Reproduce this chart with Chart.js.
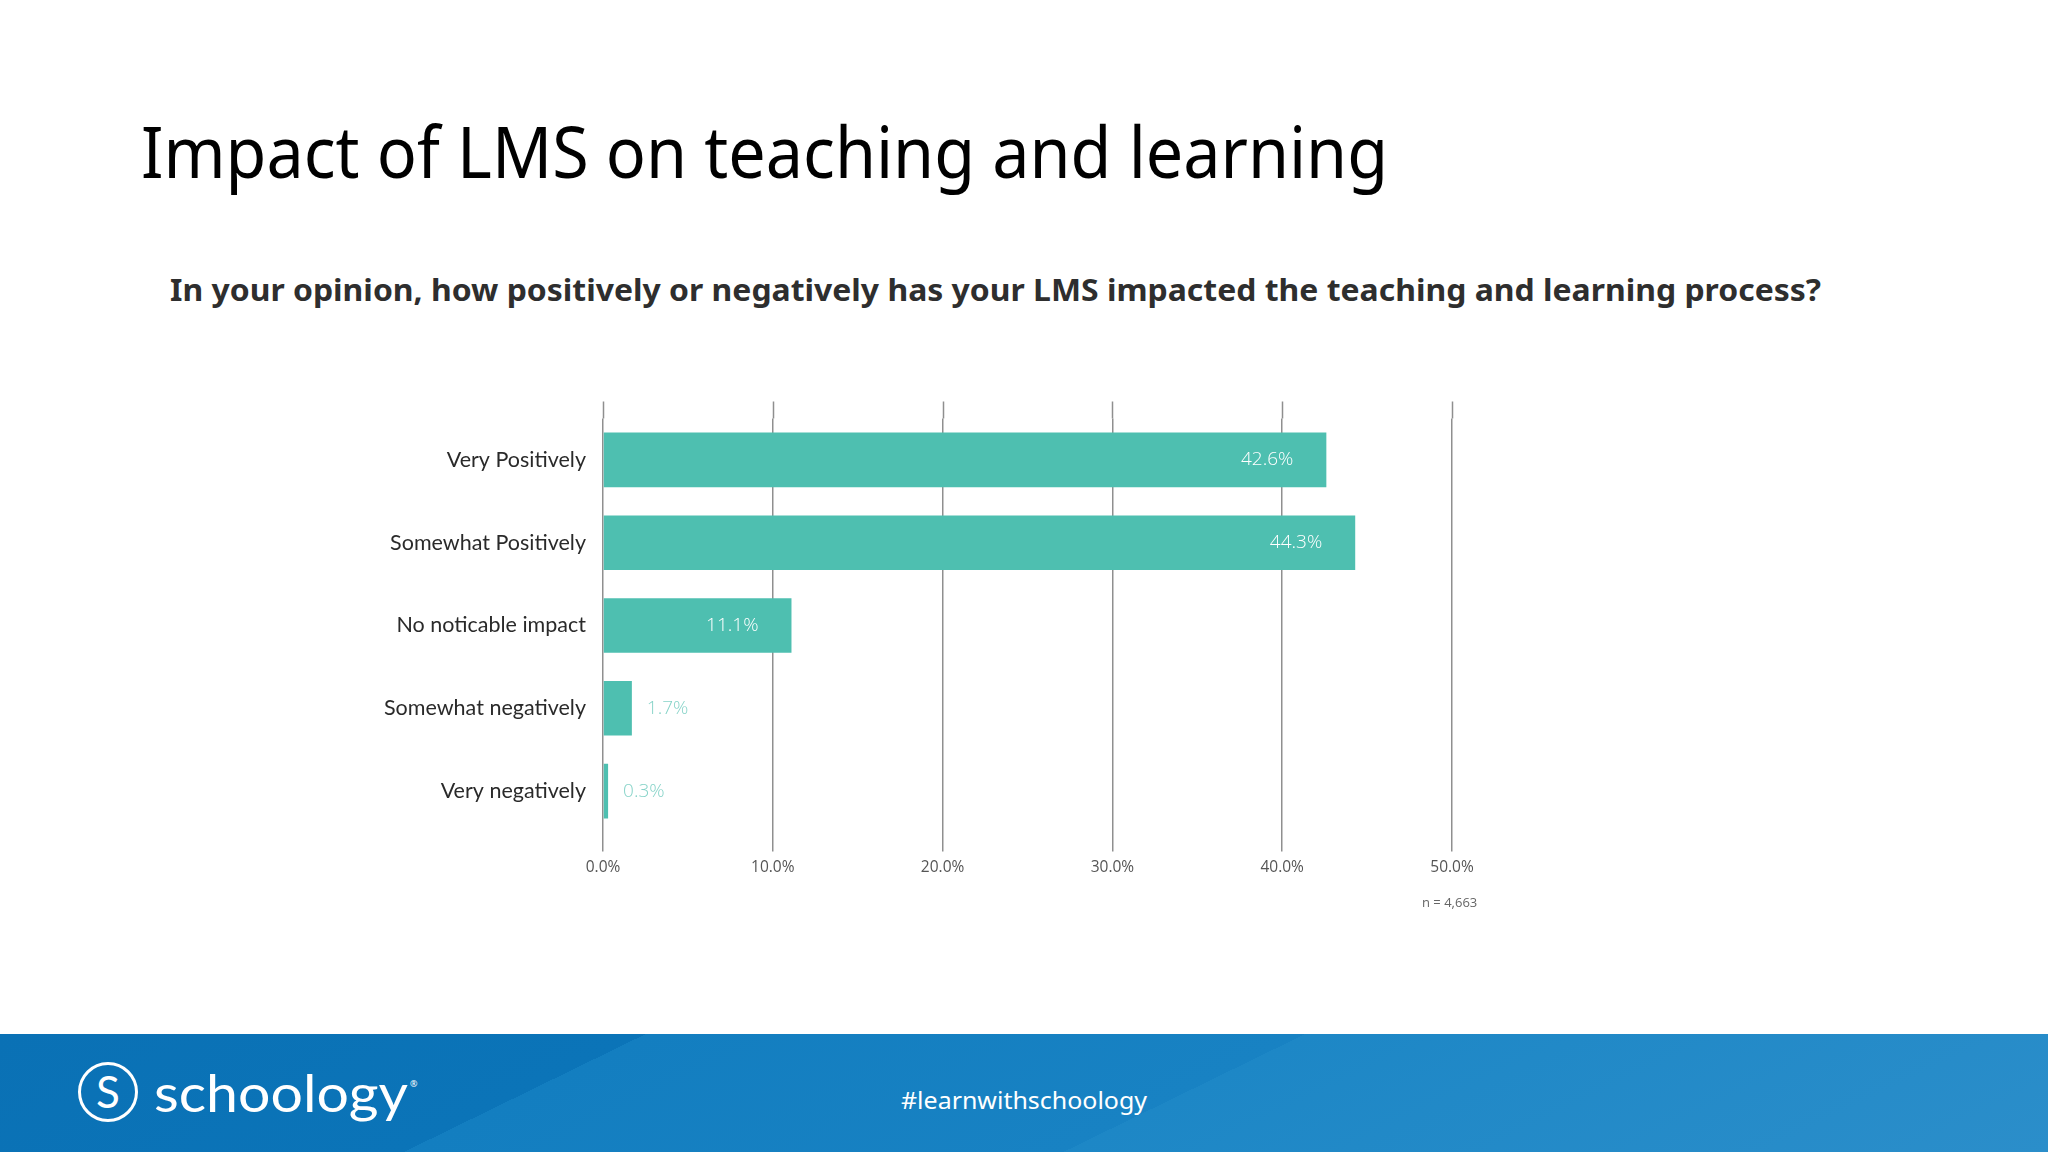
<!DOCTYPE html>
<html>
<head>
<meta charset="utf-8">
<script src="https://cdn.jsdelivr.net/npm/chart.js@4.4.1/dist/chart.umd.min.js"></script>
<style>
  html, body { margin: 0; padding: 0; background: #ffffff; }
  body { width: 2048px; height: 1152px; position: relative; overflow: hidden; font-family: "Noto Sans", sans-serif; }
  .fit { position: absolute; white-space: nowrap; line-height: 1; display: inline-block; transform-origin: left top; }
  #title { left: 141px; top: 114px; font-size: 72px; color: #000; font-weight: 400; }
  #subtitle { left: 170px; top: 274px; font-size: 31px; color: #2e2e2e; font-weight: 700; }
  #chartBox { position: absolute; left: 300px; top: 380px; width: 1200px; height: 560px; }
  #nlabel { position: absolute; left: 1422px; top: 893px; font-size: 13px; color: #666; font-family: "Open Sans", sans-serif; white-space: nowrap; }
  #footer { position: absolute; left: 0; top: 1034px; width: 2048px; height: 118px;
    background: linear-gradient(154deg, #0a71b5 0%, #0b74b8 28.2%, #137ec0 28.2%, #1882c3 57%, #1d87c6 57%, #2b8eca 100%); }
  #logoRing { position: absolute; left: 78px; top: 1062px; width: 54px; height: 54px; border: 3px solid #fff; border-radius: 50%; }
  #logoS { position: absolute; left: 78px; top: 1061px; width: 60px; height: 60px; line-height: 60px; text-align: center; color: #fff; font-size: 44px; font-family: "Lato", sans-serif; font-weight: 400; }
  #brand { left: 154px; top: 1066px; font-size: 52px; color: #fff; font-family: "Lato", sans-serif; font-weight: 400; }
  #reg { position: absolute; left: 410px; top: 1077px; font-size: 9px; color: #fff; }
  #hashtag { left: 901px; top: 1088px; font-size: 24px; color: #fff; font-family: "Noto Sans", sans-serif; }
</style>
</head>
<body>
<div id="title" class="fit" data-w="1247">Impact of LMS on teaching and learning</div>
<div id="subtitle" class="fit" data-w="1651">In your opinion, how positively or negatively has your LMS impacted the teaching and learning process?</div>
<div id="chartBox"><canvas id="c"></canvas></div>
<div id="nlabel">n = 4,663</div>
<div id="footer"></div>
<div id="logoRing"></div>
<div id="logoS">S</div>
<div id="brand" class="fit" data-w="254">schoology</div>
<div id="reg">®</div>
<div id="hashtag" class="fit" data-w="246">#learnwithschoology</div>
<script>
// ---- data ----
const categories = ['Very Positively', 'Somewhat Positively', 'No noticable impact', 'Somewhat negatively', 'Very negatively'];
const values = [42.6, 44.3, 11.1, 1.7, 0.3];
const xTickValues = [0, 10, 20, 30, 40, 50];

// fit text widths
document.querySelectorAll('.fit').forEach(el => {
  const target = parseFloat(el.dataset.w);
  const w = el.getBoundingClientRect().width;
  if (w > 0) el.style.transform = 'scaleX(' + (target / w) + ')';
});

const gridColor = '#8f8f8f';

const extendGrid = {
  id: 'extendGrid',
  beforeDatasetsDraw(chart) {
    const xs = chart.scales.x;
    const ctx = chart.ctx;
    const top = chart.chartArea.top;
    ctx.save();
    ctx.strokeStyle = gridColor;
    ctx.lineWidth = 1.5;
    xs.ticks.forEach(t => {
      const px = Math.round(xs.getPixelForValue(t.value)) + 0.5;
      ctx.beginPath();
      ctx.moveTo(px, top - 17);
      ctx.lineTo(px, top);
      ctx.stroke();
    });
    ctx.restore();
  }
};

const valueLabels = {
  id: 'valueLabels',
  afterDatasetsDraw(chart) {
    const meta = chart.getDatasetMeta(0);
    const ctx = chart.ctx;
    ctx.save();
    ctx.font = '300 19px "Open Sans", sans-serif';
    ctx.textBaseline = 'middle';
    meta.data.forEach((bar, i) => {
      const v = values[i];
      const txt = v.toFixed(1) + '%';
      if (v > 5) {
        ctx.fillStyle = '#ffffff';
        ctx.textAlign = 'right';
        ctx.fillText(txt, bar.x - 33, bar.y);
      } else {
        ctx.fillStyle = '#86d3c8';
        ctx.textAlign = 'left';
        ctx.fillText(txt, bar.x + 15, bar.y);
      }
    });
    ctx.restore();
  }
};

new Chart(document.getElementById('c'), {
  type: 'bar',
  data: {
    labels: categories,
    datasets: [{
      data: values,
      backgroundColor: '#4ebfb0',
      borderWidth: 0,
      categoryPercentage: 1,
      barPercentage: 0.66
    }]
  },
  options: {
    indexAxis: 'y',
    responsive: true,
    maintainAspectRatio: false,
    animation: false,
    layout: { padding: { top: 38.5, right: 48, bottom: 47.5, left: 0 } },
    plugins: { legend: { display: false }, tooltip: { enabled: false } },
    scales: {
      x: {
        min: 0,
        max: 50,
        afterBuildTicks(scale) { scale.ticks = xTickValues.map(v => ({ value: v })); },
        afterFit(scale) { scale.height = 60; },
        border: { display: false },
        grid: { color: gridColor, lineWidth: 1.5, tickLength: 19, tickColor: gridColor, drawTicks: true },
        ticks: {
          callback: v => Number(v).toFixed(1) + '%',
          font: { family: 'Open Sans', size: 15.5 },
          color: '#555',
          padding: 7,
          maxRotation: 0
        }
      },
      y: {
        afterFit(scale) { scale.width = 303; },
        border: { display: false },
        grid: { display: false, drawTicks: false },
        ticks: {
          font: { family: 'Lato', size: 21.5 },
          color: '#2a2a2a',
          padding: 17
        }
      }
    }
  },
  plugins: [extendGrid, valueLabels]
});
</script>
</body>
</html>
